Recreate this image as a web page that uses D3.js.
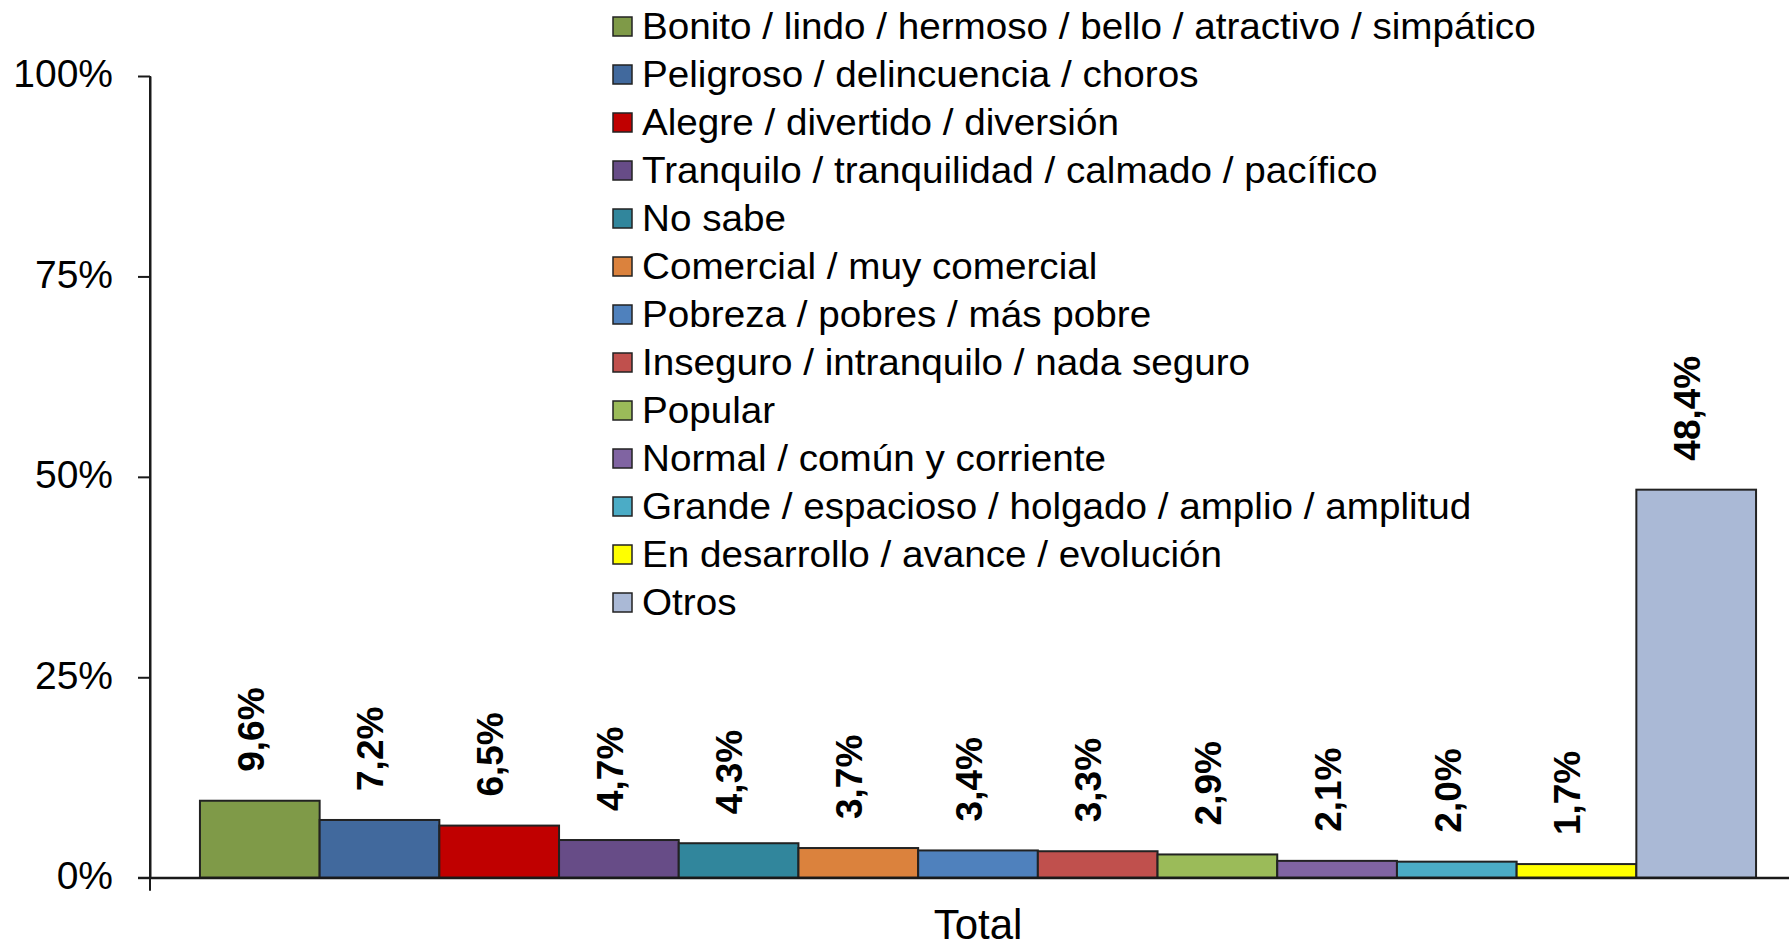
<!DOCTYPE html>
<html>
<head>
<meta charset="utf-8">
<script src="https://cdn.jsdelivr.net/npm/d3@7"></script>
<style>
  body { margin: 0; background: #fff; }
  svg text { font-family: "Liberation Sans", Arial, sans-serif; fill: #000; }
  .axis-line path, .axis-line line { stroke: #1a1a1a; stroke-width: 2; }
  .bar { stroke: #222; stroke-width: 2; }
  .bar-label { font-weight: bold; font-size: 37px; }
  .legend-text { font-size: 37px; }
</style>
</head>
<body>
<div class="chart-container"></div>
<script>
// answers (legend order = bar order)
const categories = [
  "Bonito / lindo / hermoso / bello / atractivo / simpático",
  "Peligroso / delincuencia / choros",
  "Alegre / divertido / diversión",
  "Tranquilo / tranquilidad / calmado / pacífico",
  "No sabe",
  "Comercial / muy comercial",
  "Pobreza / pobres / más pobre",
  "Inseguro / intranquilo / nada seguro",
  "Popular",
  "Normal / común y corriente",
  "Grande / espacioso / holgado / amplio / amplitud",
  "En desarrollo / avance / evolución",
  "Otros"
];
const values = [9.6, 7.2, 6.5, 4.7, 4.3, 3.7, 3.4, 3.3, 2.9, 2.1, 2.0, 1.7, 48.4];
const groups = ["Total"];
const yTicks = [0, 25, 50, 75, 100];
const colors = ["#7f9a48", "#41699d", "#c00000", "#674c87", "#31869c", "#db823d",
  "#4f81bd", "#c0504d", "#9bbb59", "#8064a2", "#4bacc6", "#ffff00", "#aab9d6"];

const width = 1789, height = 943;
const plotLeft = 150, plotRight = 1806, plotTop = 76, plotBottom = 877.7;

const svg = d3.select(".chart-container").append("svg")
    .attr("width", width)
    .attr("height", height);

const y = d3.scaleLinear().domain([0, 100]).range([plotBottom, plotTop]);

const x0 = d3.scaleBand()
    .domain(groups)
    .range([plotLeft, plotRight])
    .paddingInner(0)
    .paddingOuter(0.0321);

const x1 = d3.scaleBand()
    .domain(categories)
    .range([0, x0.bandwidth()])
    .padding(0);

const data = categories.map((c, i) => ({ label: c, value: values[i], color: colors[i] }));

// y axis
const yAxis = svg.append("g")
    .attr("class", "axis-line")
    .attr("transform", "translate(" + plotLeft + ",0)")
    .call(d3.axisLeft(y)
      .tickValues(yTicks)
      .tickSize(12)
      .tickSizeOuter(0)
      .tickPadding(25)
      .tickFormat((d) => d + "%"));
yAxis.selectAll("text")
    .attr("dy", "0.28em")
    .style("font-size", "39px");
// extend axis line under the baseline (category tick)
svg.append("line")
    .attr("x1", plotLeft).attr("x2", plotLeft)
    .attr("y1", plotTop).attr("y2", plotBottom + 13)
    .attr("stroke", "#1a1a1a")
    .attr("stroke-width", 2);

// bars
const g = svg.append("g")
    .attr("transform", "translate(" + x0("Total") + ",0)");

g.selectAll(".bar")
    .data(data)
  .enter().append("rect")
    .attr("class", "bar")
    .attr("x", (d) => x1(d.label))
    .attr("y", (d) => y(d.value))
    .attr("width", x1.bandwidth())
    .attr("height", (d) => y(0) - y(d.value))
    .style("fill", (d) => d.color);

g.selectAll(".bar-label")
    .data(data)
  .enter().append("text")
    .attr("class", "bar-label")
    .attr("transform", (d) => "translate(" + (x1(d.label) + x1.bandwidth() / 2) + "," + (y(d.value) - 29) + ") rotate(-90)")
    .attr("dy", "0.1em")
    .style("text-anchor", "start")
    .text((d) => d.value.toFixed(1).replace(".", ",") + "%");

// x axis (baseline + category label)
const xAxis = svg.append("g")
    .attr("class", "axis-line")
    .attr("transform", "translate(0," + plotBottom + ")")
    .call(d3.axisBottom(x0).tickSize(0).tickSizeOuter(0).tickPadding(31));
xAxis.selectAll("text").style("font-size", "42px");
svg.append("line")
    .attr("x1", plotLeft - 12).attr("x2", plotRight)
    .attr("y1", plotBottom).attr("y2", plotBottom)
    .attr("stroke", "#1a1a1a")
    .attr("stroke-width", 2);

// legend
const legend = svg.append("g")
    .attr("transform", "translate(613,0)");

const row = legend.selectAll(".legend-row")
    .data(data)
  .enter().append("g")
    .attr("class", "legend-row")
    .attr("transform", (d, i) => "translate(0," + (26.5 + i * 48) + ")");

row.append("rect")
    .attr("x", 0)
    .attr("y", -9.5)
    .attr("width", 19)
    .attr("height", 19)
    .attr("stroke", "#222")
    .attr("stroke-width", 1.5)
    .style("fill", (d) => d.color);

row.append("text")
    .attr("class", "legend-text")
    .attr("transform", "translate(29,12.5) scale(1.045,1)")
    .text((d) => d.label);
</script>
</body>
</html>
